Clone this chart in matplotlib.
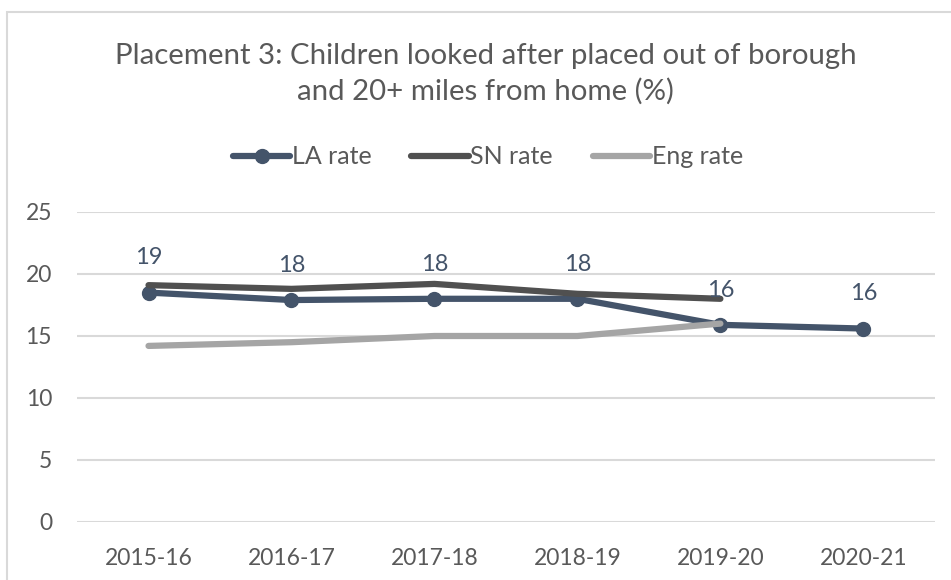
import matplotlib
matplotlib.use("Agg")
import matplotlib.pyplot as plt
from matplotlib.patches import Rectangle

plt.rcParams['font.family'] = ['Lato', 'DejaVu Sans']

years = ["2015-16", "2016-17", "2017-18", "2018-19", "2019-20", "2020-21"]
la_rate = [18.5, 17.9, 18.0, 18.0, 15.9, 15.6]
sn_rate = [19.1, 18.8, 19.2, 18.4, 18.0]
eng_rate = [14.2, 14.5, 15.0, 15.0, 16.0]
la_labels = ["19", "18", "18", "18", "16", "16"]

fig = plt.figure(figsize=(9.51, 5.8), dpi=100)
ax = fig.add_axes([0.081, 0.1, 0.902, 0.5345])

# chart border
fig.patches.append(Rectangle((7 / 951, -0.1), 1.2, 1 - 12 / 580 + 0.1,
                             transform=fig.transFigure, fill=False,
                             edgecolor="#D9D9D9", linewidth=1.5))

x = list(range(len(years)))
ax.plot(x, la_rate, color="#44546A", linewidth=4.5, marker="o",
        markersize=10, solid_capstyle="round", label="LA rate", zorder=3)
ax.plot(x[:len(sn_rate)], sn_rate, color="#505050", linewidth=4.5,
        solid_capstyle="round", label="SN rate", zorder=4)
ax.plot(x[:len(eng_rate)], eng_rate, color="#A5A5A5", linewidth=4.5,
        solid_capstyle="round", label="Eng rate", zorder=5)

for xi, v, lab in zip(x, la_rate, la_labels):
    ax.annotate(lab, (xi, v), xytext=(0, 25), textcoords="offset points",
                ha="center", va="center", fontsize=17, color="#44546A",
                zorder=6)

ax.set_xlim(-0.5, len(years) - 0.5)
ax.set_ylim(0, 25)
ax.set_yticks(range(0, 26, 5))
ax.set_xticks(x)
ax.set_xticklabels(years)
ax.grid(axis="y", color="#D9D9D9", linewidth=1.5)
ax.set_axisbelow(True)
for s in ax.spines.values():
    s.set_visible(False)
ax.tick_params(length=0, labelsize=16.5, labelcolor="#595959")
ax.tick_params(axis="y", pad=18)
ax.tick_params(axis="x", pad=19)

fig.text(0.5105, 1 - 74 / 580,
         "Placement 3: Children looked after placed out of borough\nand 20+ miles from home (%)",
         ha="center", va="center", fontsize=21.2, color="#595959", linespacing=1.4)

fig.legend(loc="center", bbox_to_anchor=(0.513, 1 - 157 / 580), ncol=3,
           frameon=False, fontsize=18, handlelength=2.3, columnspacing=1.6,
           handletextpad=0.05, labelcolor="#595959")

fig.savefig("out.png", dpi=100)
